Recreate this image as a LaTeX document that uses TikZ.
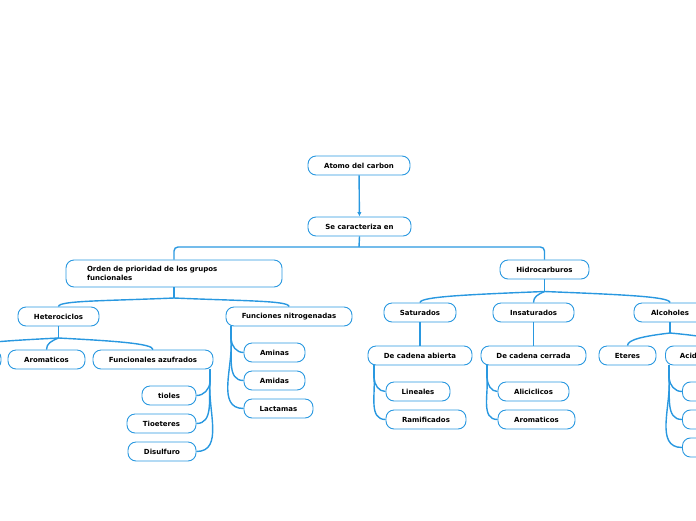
\documentclass[tikz,border=0pt]{standalone}
\usepackage{fontspec}
\setmainfont{DejaVu Sans}
\usetikzlibrary{calc,arrows.meta}
\definecolor{bluec}{RGB}{41,152,224}
\tikzset{
  box/.style={draw=bluec, line width=0.9pt, rounded corners=8pt, fill=white,
    minimum height=19pt, inner sep=0pt, font=\fontsize{7}{8.5}\selectfont\bfseries},
  conn/.style={draw=bluec, line width=1.4pt},
}
\newcommand{\treeto}[2]{% junction, child
  \draw[conn] (#1) .. controls ($($(#1)!0.6!(#1 -| #2.north)$)+(0,3)$) and ($(#2.north)+(0,-6)$) .. (#2.north);}
\begin{document}
\begin{tikzpicture}[x=1pt,y=-1pt]
\useasboundingbox (0,0) rectangle (696,520);
\clip (0,0) rectangle (696,520);
% nodes
\node[box, minimum width=102pt] (atomo) at (359,165.5) {Atomo del carbon};
\node[box, minimum width=103pt] (se) at (359.5,226.5) {Se caracteriza en};
\node[box, minimum height=27pt, text width=174pt, inner xsep=21pt, align=left] (orden) at (174,273.5) {Orden de prioridad de los grupos\\funcionales};
\node[box, minimum width=89pt] (hidro) at (544.5,269.5) {Hidrocarburos};
\node[box, minimum width=81pt] (hetero) at (58.5,316.5) {Heterociclos};
\node[box, minimum width=126pt] (fn) at (289,316.5) {Funciones nitrogenadas};
\node[box, minimum width=80pt] (lc) at (-39,359.5) {};
\node[box, minimum width=77pt] (arom1) at (46.5,359.5) {Aromaticos};
\node[box, minimum width=120pt] (fa) at (153,359.5) {Funcionales azufrados};
\node[box, minimum width=54pt] (tioles) at (169,395.5) {tioles};
\node[box, minimum width=69pt] (tioet) at (161.5,423.5) {Tioeteres};
\node[box, minimum width=68pt] (disul) at (162,451.5) {Disulfuro};
\node[box, minimum width=61pt] (aminas) at (274.5,352.5) {Aminas};
\node[box, minimum width=61pt] (amidas) at (274.5,380.5) {Amidas};
\node[box, minimum width=69pt] (lact) at (278.5,408.5) {Lactamas};
\node[box, minimum width=72pt] (satur) at (420,312.5) {Saturados};
\node[box, minimum width=81pt] (insat) at (533.5,312.5) {Insaturados};
\node[box, minimum width=72pt] (alco) at (670,312.5) {Alcoholes};
\node[box, minimum width=104pt] (dca) at (420,355.5) {De cadena abierta};
\node[box, minimum width=105pt] (dcc) at (533.5,355.5) {De cadena cerrada};
\node[box, minimum width=64pt] (lin) at (418,391.5) {Lineales};
\node[box, minimum width=80pt] (ram) at (426,419.5) {Ramificados};
\node[box, minimum width=71pt] (alic) at (533.5,391.5) {Aliciclicos};
\node[box, minimum width=77pt] (arom2) at (536.5,419.5) {Aromaticos};
\node[box, minimum width=57pt] (eteres) at (627.5,355.5) {Eteres};
\node[box, anchor=west, text width=90pt, inner xsep=14.5pt, align=left] (acid) at (665,355.5) {Acidos carboxilicos};
\node[box, anchor=west, minimum width=60pt] (ac1) at (682,391.5) {};
\node[box, anchor=west, minimum width=60pt] (ac2) at (682,419.5) {};
\node[box, anchor=west, minimum width=60pt] (ac3) at (682,447.5) {};
% connectors
\draw[conn, -{Latex[length=4.5pt,width=4.5pt]}] (atomo) -- (se);
\coordinate (bus) at (359,247);
\draw[conn] (se.south) -- (bus);
\draw[conn, rounded corners=4pt] (orden.north) |- (bus) -| (hidro.north);
% orden tree
\coordinate (jo) at (174,298);
\draw[conn] (orden.south) -- (jo);
\treeto{jo}{hetero}
\treeto{jo}{fn}
% heterociclos tree
\coordinate (jh) at (58.5,338);
\draw[conn] (hetero.south) -- (jh);
\treeto{jh}{lc}
\treeto{jh}{arom1}
\treeto{jh}{fa}
% hidrocarburos tree
\coordinate (jd) at (544.5,291.5);
\draw[conn] (hidro.south) -- (jd);
\treeto{jd}{satur}
\treeto{jd}{insat}
\treeto{jd}{alco}
% alcoholes tree
\coordinate (ja) at (670,333);
\draw[conn] (alco.south) -- (ja);
\treeto{ja}{eteres}
\treeto{ja}{acid}
% straight
\draw[conn] (satur.south) -- (dca.north);
\draw[conn] (insat.south) -- (dcc.north);
% side trees
\coordinate (sfa) at (210,382);
\draw[conn] (210,369) -- (sfa);
\foreach \c in {tioles,tioet,disul}{\draw[conn] (sfa) to[out=-95,in=0] (\c.east);}
\coordinate (sfn) at (231,339);
\draw[conn] (231,326) -- (sfn);
\foreach \c in {aminas,amidas,lact}{\draw[conn] (sfn) to[out=-85,in=180] (\c.west);}
\coordinate (sda) at (374,378);
\draw[conn] (374,365) -- (sda);
\foreach \c in {lin,ram}{\draw[conn] (sda) to[out=-85,in=180] (\c.west);}
\coordinate (sdc) at (487,378);
\draw[conn] (487,365) -- (sdc);
\foreach \c in {alic,arom2}{\draw[conn] (sdc) to[out=-85,in=180] (\c.west);}
\coordinate (sac) at (669,378);
\draw[conn] (669,365) -- (sac);
\foreach \c in {ac1,ac2,ac3}{\draw[conn] (sac) to[out=-85,in=180] (\c.west);}
\end{tikzpicture}
\end{document}
